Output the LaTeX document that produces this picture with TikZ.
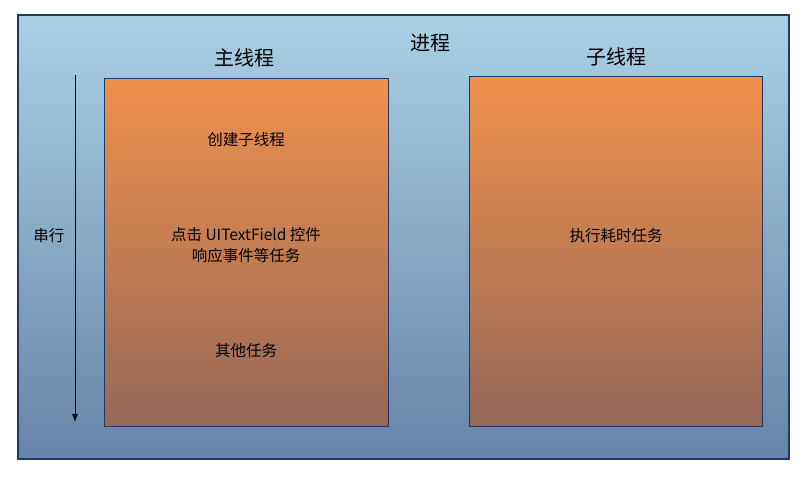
\documentclass[tikz,border=0pt]{standalone}
\usepackage{fontspec}
\setmainfont{Noto Sans CJK SC}
\usepackage{tikz}
\usepackage{xcolor}
\usetikzlibrary{arrows.meta, positioning, calc}

\definecolor{navy}{HTML}{1F3864}
\definecolor{skytop}{HTML}{A9D1E6}
\definecolor{skybot}{HTML}{6684A8}
\definecolor{orgtop}{HTML}{F0904C}
\definecolor{orgbot}{HTML}{956858}

\begin{document}
\begin{tikzpicture}[
    x=1pt, y=-1pt,
    every node/.style={font=\fontsize{15.5}{21}\selectfont},
    procbox/.style={rectangle, draw=navy, line width=1.2pt, top color=skytop, bottom color=skybot, minimum width=771pt, minimum height=444pt, inner sep=0pt},
    thrbox/.style={rectangle, draw=navy, line width=1pt, top color=orgtop, bottom color=orgbot, inner sep=0pt},
    ttl/.style={font=\fontsize{20}{24}\selectfont},
    arr/.style={-{Latex[length=8pt, width=6pt]}, line width=0.9pt}
]
\useasboundingbox (0,0) rectangle (807,477);

\node[procbox] (proc) at (403.5,237) {};
\node[ttl] (proct) at (430,43) {进程};

\node[thrbox, minimum width=284pt, minimum height=348pt] (main) at (246,252) {};
\node[thrbox, minimum width=293pt, minimum height=350pt] (sub) at (615.5,251) {};

\node[ttl] (maint) at (244,58) {主线程};
\node[ttl] (subt) at (616,57) {子线程};

\node (t1) at (246,140) {创建子线程};
\node[align=center] (t2) at (246,245) {点击 UITextField 控件\\响应事件等任务};
\node (t3) at (246,351) {其他任务};
\node (t4) at (616,236) {执行耗时任务};

\coordinate (s) at (75,75);
\coordinate (e) at (75,422);
\draw[arr] (s) -- (e);
\node (serial) at (49,236) {串行};

\end{tikzpicture}
\end{document}
